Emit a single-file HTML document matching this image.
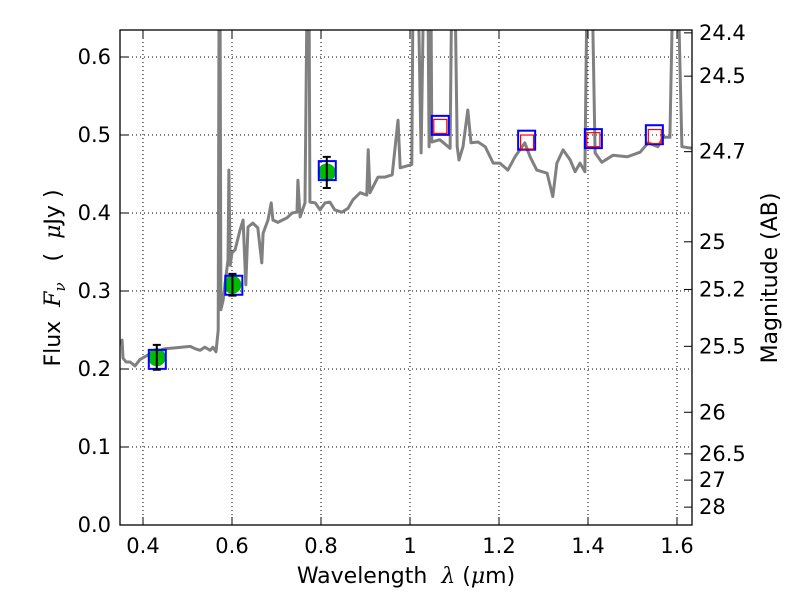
<!DOCTYPE html>
<html><head><meta charset="utf-8"><style>
html,body{margin:0;padding:0;background:#fff;}
svg{display:block;font-family:"DejaVu Sans","Liberation Sans",sans-serif;}
text{white-space:pre;}
</style></head><body>
<svg id="chart" width="800" height="600" viewBox="0 0 800 600">
<defs><clipPath id="clip"><rect x="120" y="30" width="572" height="495"/></clipPath></defs>
<g id="grid"></g>
<g id="spec" clip-path="url(#clip)"></g>
<g id="pts"></g>
<rect x="120" y="30" width="572" height="495" fill="none" stroke="#000" stroke-width="1.3"/>
<g id="axes"></g>
<text x="406" y="583" font-size="22" text-anchor="middle">Wavelength  <tspan font-style="italic" font-family="DejaVu Serif,serif">λ</tspan> (<tspan font-style="italic" font-family="DejaVu Serif,serif">μ</tspan>m)</text>
<text transform="translate(60,278) rotate(-90)" font-size="22" text-anchor="middle">Flux  <tspan font-style="italic" font-family="DejaVu Serif,serif">F</tspan><tspan font-style="italic" font-family="DejaVu Serif,serif" font-size="15" dy="5">ν</tspan><tspan dy="-5">   (  </tspan><tspan font-style="italic" font-family="DejaVu Serif,serif">μ</tspan>Jy )</text>
<text transform="translate(777,278) rotate(-90)" font-size="22" text-anchor="middle">Magnitude (AB)</text>
</svg>
<script>
const specLam=[0.351,0.353,0.355,0.362,0.371,0.382,0.393,0.411,0.427,0.449,0.472,0.506,0.517,0.528,0.539,0.551,0.557,0.564,0.569,0.571,0.573,0.575,0.580,0.587,0.591,0.593,0.596,0.600,0.607,0.618,0.625,0.631,0.636,0.647,0.658,0.667,0.670,0.681,0.688,0.692,0.703,0.724,0.735,0.746,0.748,0.753,0.764,0.769,0.773,0.775,0.787,0.798,0.809,0.820,0.831,0.847,0.861,0.872,0.888,0.903,0.906,0.910,0.928,0.944,0.960,0.973,0.978,1.004,1.007,1.018,1.025,1.031,1.040,1.043,1.047,1.049,1.067,1.090,1.094,1.101,1.106,1.110,1.119,1.130,1.137,1.153,1.169,1.187,1.202,1.220,1.236,1.258,1.270,1.285,1.308,1.321,1.330,1.344,1.360,1.371,1.382,1.393,1.398,1.409,1.416,1.431,1.456,1.488,1.517,1.535,1.557,1.569,1.584,1.591,1.602,1.611,1.634];
const specFlux=[0.231,0.237,0.214,0.209,0.209,0.204,0.212,0.218,0.222,0.226,0.227,0.229,0.226,0.224,0.228,0.224,0.228,0.222,0.25,0.7,0.7,0.276,0.288,0.321,0.340,0.455,0.333,0.349,0.353,0.378,0.391,0.308,0.382,0.387,0.381,0.336,0.374,0.391,0.413,0.391,0.388,0.394,0.4,0.401,0.442,0.395,0.413,0.7,0.7,0.414,0.413,0.404,0.413,0.414,0.404,0.401,0.406,0.417,0.426,0.423,0.481,0.426,0.446,0.446,0.449,0.519,0.458,0.462,0.7,0.7,0.477,0.7,0.7,0.485,0.7,0.491,0.494,0.483,0.7,0.7,0.485,0.468,0.485,0.532,0.49,0.491,0.485,0.464,0.464,0.455,0.472,0.49,0.472,0.455,0.451,0.421,0.464,0.481,0.468,0.453,0.464,0.453,0.7,0.7,0.477,0.465,0.474,0.472,0.478,0.49,0.485,0.497,0.497,0.7,0.7,0.485,0.483];
const obsLam=[0.431,0.601,0.813];
const obsFlux=[0.215,0.308,0.452];
const obsErr=[0.016,0.014,0.02];
const modelLam=[0.431,0.603,0.813,1.067,1.261,1.411,1.548];
const modelFlux=[0.213,0.308,0.455,0.513,0.494,0.496,0.501];
const redLam=[1.067,1.262,1.411,1.549];
const redFlux=[0.511,0.491,0.494,0.498];
const xTicks=[0.4,0.6,0.8,1.0,1.2,1.4,1.6];
const xTickLabels=["0.4","0.6","0.8","1","1.2","1.4","1.6"];
const yTicks=[0,0.1,0.2,0.3,0.4,0.5,0.6];
const yTickLabels=["0.0","0.1","0.2","0.3","0.4","0.5","0.6"];
const magTicks=[24.4,24.5,24.7,25,25.2,25.5,26,26.5,27,28];
const magTickLabels=["24.4","24.5","24.7","25","25.2","25.5","26","26.5","27","28"];

const X=l=>143+(l-0.4)*445;
const Y=f=>525-f*780;
const NS="http://www.w3.org/2000/svg";
function mk(tag,parent,attrs){const e=document.createElementNS(NS,tag);for(const k in attrs)e.setAttribute(k,attrs[k]);parent.appendChild(e);return e;}
const grid=document.getElementById('grid'),axes=document.getElementById('axes');
xTicks.forEach((t,i)=>{
  const x=X(t);
  const g=mk('line',grid,{x1:x,x2:x,y1:30,y2:525,stroke:'#000','stroke-width':1,'stroke-dasharray':'1,3'});
  
  
  const tk=mk('line',axes,{x1:x,x2:x,y1:525,y2:517,stroke:'#000','stroke-width':1});
  
  
  const tk2=mk('line',axes,{x1:x,x2:x,y1:30,y2:38,stroke:'#000','stroke-width':1});
  
  
  const tx=mk('text',axes,{x:x,y:553,'font-size':21,'text-anchor':'middle'});
  tx.textContent=xTickLabels[i];
  
  
});
yTicks.forEach((t,i)=>{
  const y=Y(t);
  const g=mk('line',grid,{x1:120,x2:692,y1:y,y2:y,stroke:'#000','stroke-width':1,'stroke-dasharray':'1,3'});
  
  
  const tk=mk('line',axes,{x1:120,x2:128,y1:y,y2:y,stroke:'#000','stroke-width':1});
  
  
  const tx=mk('text',axes,{x:111,y:y+7,'font-size':21,'text-anchor':'end'});
  tx.textContent=yTickLabels[i];
  
  
});
magTicks.forEach((m,i)=>{
  const y=Y(Math.pow(10,(23.9-m)/2.5));
  const tk=mk('line',axes,{x1:692,x2:684,y1:y,y2:y,stroke:'#000','stroke-width':1});
  
  
  const tx=mk('text',axes,{x:699,y:y+7,'font-size':21,'text-anchor':'start'});
  tx.textContent=magTickLabels[i];
  
  
});
const spec=document.getElementById('spec');
const d=specLam.map((l,i)=>(i?'L':'M')+X(l).toFixed(1)+','+Y(specFlux[i]).toFixed(1)).join(' ');
const p=mk('path',spec,{d:d,fill:'none',stroke:'#808080','stroke-width':3,'stroke-linejoin':'round'});


const pts=document.getElementById('pts');
obsLam.forEach((l,i)=>{
  const c=mk('circle',pts,{cx:X(l),cy:Y(obsFlux[i]),r:9,fill:'#00bb00'});
  
  
});
modelLam.forEach((l,i)=>{
  const r=mk('rect',pts,{x:X(l)-8,y:Y(modelFlux[i])-9,width:17,height:19,fill:'none',stroke:'#0000ff','stroke-width':2});
  
  
});
redLam.forEach((l,i)=>{
  const r=mk('rect',pts,{x:X(l)-6,y:Y(redFlux[i])-7,width:13,height:14,fill:'none',stroke:'#ff0000','stroke-width':1.2});
  
  
});
obsLam.forEach((l,i)=>{
  const x=X(l),y1=Y(obsFlux[i]-obsErr[i]),y2=Y(obsFlux[i]+obsErr[i]);
  const e=mk('path',pts,{d:`M${x},${y1}L${x},${y2}M${x-4},${y1}L${x+4},${y1}M${x-4},${y2}L${x+4},${y2}`,stroke:'#000','stroke-width':2,fill:'none'});
  
  
});
</script>
</body></html>
